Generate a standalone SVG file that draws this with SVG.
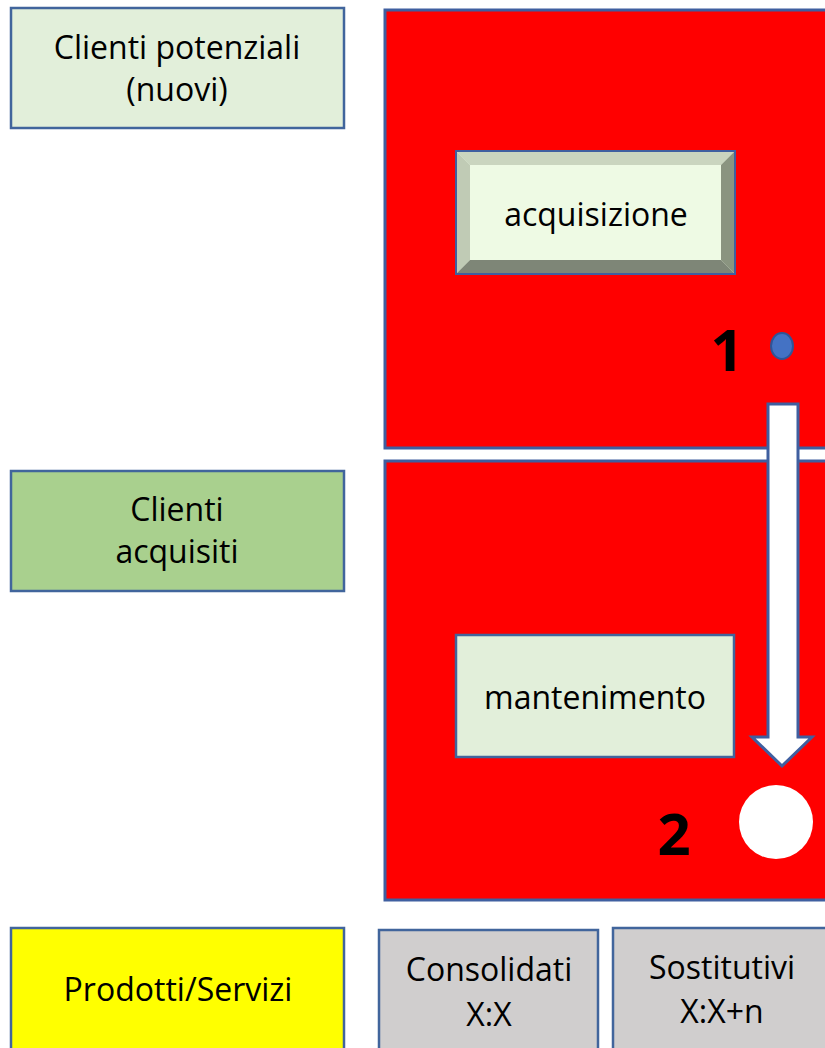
<svg xmlns="http://www.w3.org/2000/svg" width="825" height="1048" viewBox="0 0 825 1048">
<style>
.lbl{font-family:"Open Sans","Liberation Sans",sans-serif;font-size:32px;fill:#000;text-anchor:middle}
.num{font-family:"Open Sans","Liberation Sans",sans-serif;font-size:58px;font-weight:bold;fill:#000;text-anchor:middle}
.box{stroke:#41659C;stroke-width:2.5}
.red{fill:#FF0000;stroke:#3F5FA0;stroke-width:3}
</style>
<rect width="825" height="1048" fill="#fff"/>
<g id="acq-area"><rect class="red" x="385" y="10" width="445" height="438"/></g>
<g id="mant-area"><rect class="red" x="385" y="461" width="445" height="439"/></g>
<g id="clienti-potenziali"><rect class="box" x="11" y="8" width="333" height="120" fill="#E2EFDA"/>
<text class="lbl" x="177" y="59">Clienti potenziali</text><text class="lbl" x="177" y="101">(nuovi)</text></g>
<g id="clienti-acquisiti"><rect class="box" x="11" y="471" width="333" height="120" fill="#A9D08E"/>
<text class="lbl" x="177" y="521">Clienti</text><text class="lbl" x="177" y="563">acquisiti</text></g>
<g id="acquisizione">
<rect x="456" y="151" width="279" height="123" fill="#EEFAE4" stroke="#3F5FA0" stroke-width="2"/>
<polygon points="457,152 734,152 721,165 470,165" fill="#CAD5BF"/>
<polygon points="457,152 470,165 470,260 457,273" fill="#C0CBB5"/>
<polygon points="734,152 734,273 721,260 721,165" fill="#8A9480"/>
<polygon points="457,273 470,260 721,260 734,273" fill="#7E8677"/>
<text class="lbl" x="596" y="226">acquisizione</text></g>
<g id="mantenimento"><rect class="box" x="456" y="635" width="278" height="122" fill="#E2EFDA"/>
<text class="lbl" x="595" y="709">mantenimento</text></g>
<g id="step1"><text class="num" x="727" y="371">1</text><ellipse cx="782" cy="346" rx="11" ry="13" fill="#4472C4" stroke="#2F5597" stroke-width="2"/></g>
<g id="step2"><text class="num" x="674" y="855">2</text><circle cx="776" cy="822" r="37" fill="#fff"/></g>
<g id="connectors"><polygon points="768,404 798,404 798,737 812,737 782,766 752,737 768,737" fill="#fff" stroke="#3F5FA0" stroke-width="3" stroke-linejoin="miter"/></g>
<g id="prodotti"><rect class="box" x="11" y="928" width="333" height="125" fill="#FFFF00"/>
<text class="lbl" x="178" y="1001">Prodotti/Servizi</text></g>
<g id="consolidati"><rect class="box" x="379" y="930" width="219" height="125" fill="#D0CECE"/>
<text class="lbl" x="489" y="981">Consolidati</text><text class="lbl" x="489" y="1026">X:X</text></g>
<g id="sostitutivi"><rect class="box" x="613" y="928" width="220" height="125" fill="#D0CECE"/>
<text class="lbl" x="722" y="979">Sostitutivi</text><text class="lbl" x="722" y="1023">X:X+n</text></g>
</svg>
